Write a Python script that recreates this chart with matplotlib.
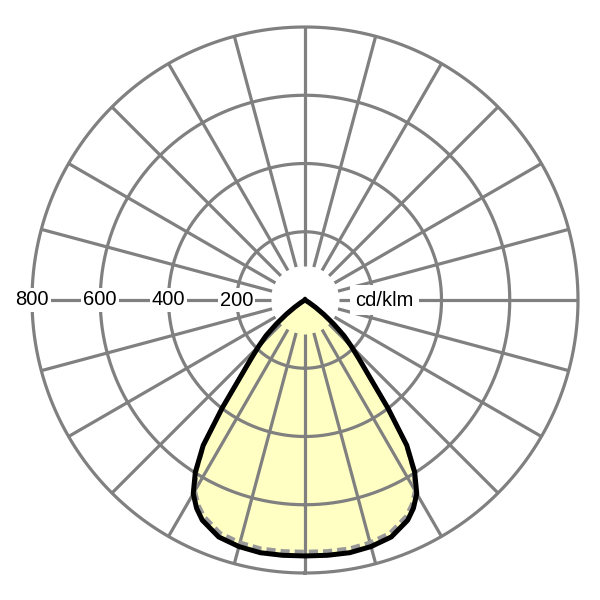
import numpy as np
import matplotlib
matplotlib.use("Agg")
import matplotlib.pyplot as plt

plt.rcParams["font.family"] = ["Liberation Sans", "DejaVu Sans"]

# luminous intensity, cd/klm (symmetric around nadir)
gamma_deg = [0, 5, 10, 15, 20, 25, 27.5, 30, 32.5, 35, 37.5, 40, 42.5, 45,
             47.5, 50, 52.5, 55, 57.5, 60, 65, 90]
i_c0_c180 = [750, 751, 752, 748, 739, 712, 688, 655, 598, 520, 398, 295, 235, 192,
             155, 110, 70, 38, 15, 3, 0, 0]
i_c90_c270 = [738, 739, 740, 736, 727, 700, 677, 645, 592, 516, 398, 295, 235, 192,
              155, 110, 70, 38, 15, 3, 0, 0]

ring_values = [200, 400, 600, 800]
ring_labels = ["200", "400", "600", "800"]
unit_label = "cd/klm"

grid_col = "#808080"
fill_col = "#FFFFC4"


def mirrored(angles, values):
    # the distribution is symmetric, so build the full -90..90 curve from one half
    a = np.deg2rad(np.array(angles, dtype=float))
    v = np.array(values, dtype=float)
    return np.concatenate([-a[::-1], a[1:]]), np.concatenate([v[::-1], v[1:]])


fig = plt.figure(figsize=(6, 6), dpi=100)
ax = fig.add_axes([32 / 600, 27 / 600, 546 / 600, 546 / 600], projection="polar")
ax.set_theta_zero_location("S")
ax.set_ylim(0, 800)
ax.axis("off")

# intensity curves
th1, r1 = mirrored(gamma_deg, i_c0_c180)
th2, r2 = mirrored(gamma_deg, i_c90_c270)
ax.fill(th1, r1, color=fill_col, lw=0, zorder=1)

# grid: rings and spokes every 15 deg
full = np.linspace(0, 2 * np.pi, 721)
for rv in ring_values:
    ax.plot(full, np.full_like(full, rv), color=grid_col, lw=2.3, zorder=2, clip_on=False)
for a in range(0, 360, 15):
    ax.plot([np.deg2rad(a)] * 2, [100, 800], color=grid_col, lw=2.3, zorder=2,
            clip_on=False, solid_capstyle="butt")

ax.plot(th2, r2, color="#999999", lw=3.0, ls=(0, (2.2, 1.2)), zorder=3, clip_on=False)
ax.plot(th1, r1, color="black", lw=3.6, zorder=4, clip_on=False, solid_joinstyle="round")

# labels on the horizontal axis
box = dict(boxstyle="square,pad=0.1", fc="white", ec="none")
for rv, lab in zip(ring_values, ring_labels):
    ax.text(np.deg2rad(270), rv, lab, ha="center", va="center", fontsize=14.5,
            bbox=box, zorder=6)
ax.text(np.deg2rad(90), 233, unit_label, ha="center", va="center", fontsize=14.5,
        bbox=dict(boxstyle="square,pad=0.25", fc="white", ec="none"), zorder=6)

fig.savefig("out.png", dpi=100)
